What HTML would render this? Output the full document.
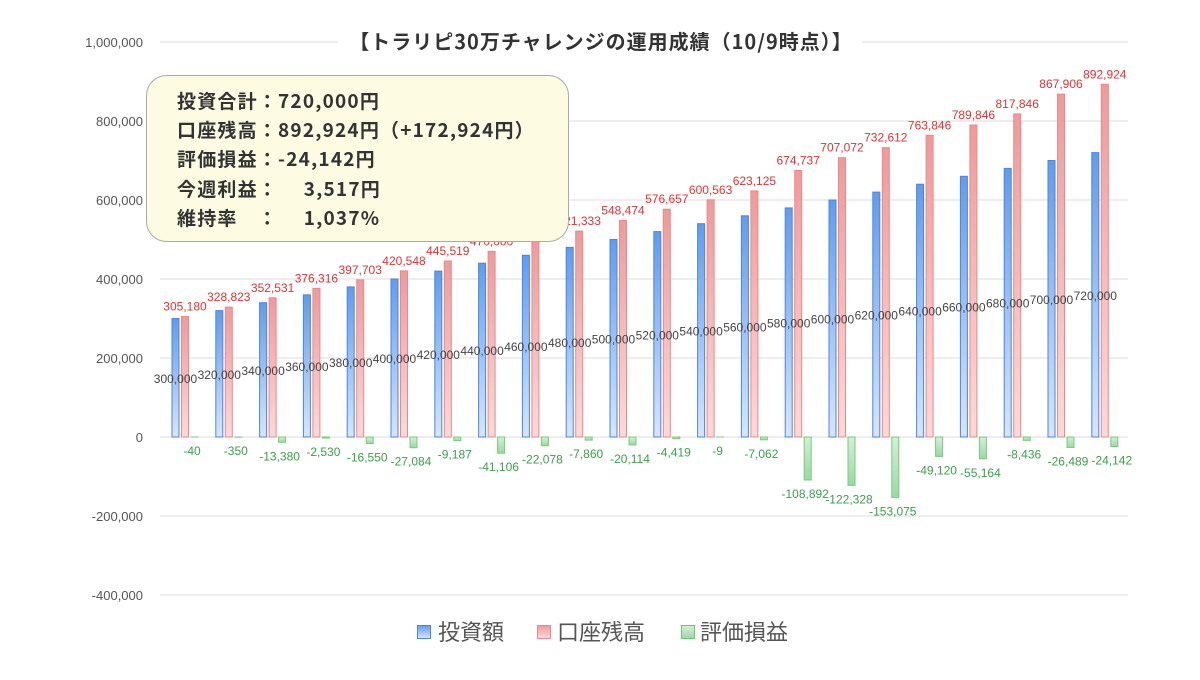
<!DOCTYPE html>
<html><head><meta charset="utf-8"><style>
body{margin:0;background:#fff;}
svg text{font-family:"Liberation Sans","Noto Sans CJK JP",sans-serif;}
svg text.cjk{font-family:"Noto Sans CJK JP","Liberation Sans",sans-serif;}
</style></head><body>
<svg id="chart" width="1200" height="675" xmlns="http://www.w3.org/2000/svg">
<defs>
<linearGradient id="gb" x1="0" y1="0" x2="0" y2="1"><stop offset="0" stop-color="#5f9cef"/><stop offset="1" stop-color="#d6e6fc"/></linearGradient>
<linearGradient id="gr" x1="0" y1="0" x2="0" y2="1"><stop offset="0" stop-color="#ee9a9a"/><stop offset="1" stop-color="#fbdada"/></linearGradient>
<linearGradient id="gg" x1="0" y1="0" x2="0" y2="1"><stop offset="0" stop-color="#d3f0d8"/><stop offset="1" stop-color="#9ad8a6"/></linearGradient>
</defs>
<rect width="1200" height="675" fill="#fff"/>
<g id="grid"></g>
<g id="bars"></g>
<g id="labels"></g>
<rect x="338" y="28" width="524" height="28" fill="#fff"/>
<text class="cjk" x="601" y="49" text-anchor="middle" font-size="20" letter-spacing="1" font-weight="bold" fill="#333">【トラリピ30万チャレンジの運用成績（10/9時点）】</text>
<g>
<rect x="146.5" y="75.5" width="422" height="166" rx="20" fill="#fdfbe2" stroke="#aaa"/>
<g font-size="19" letter-spacing="1.2" font-weight="bold" fill="#333">
<text class="cjk" x="177" y="108">投資合計：720,000円</text>
<text class="cjk" x="177" y="137">口座残高：892,924円（+172,924円）</text>
<text class="cjk" x="177" y="166">評価損益：-24,142円</text>
<text class="cjk" x="177" y="196">今週利益：　 3,517円</text>
<text class="cjk" x="177" y="225">維持率　：　 1,037%</text>
</g></g>
<g font-size="22" fill="#555">
<rect x="417.5" y="625.5" width="13" height="13" fill="url(#gb)" stroke="#4a86e0"/><text x="438" y="640">投資額</text>
<rect x="537.5" y="625.5" width="13" height="13" fill="url(#gr)" stroke="#e88"/><text x="557" y="640">口座残高</text>
<rect x="681.5" y="625.5" width="13" height="13" fill="url(#gg)" stroke="#6c6"/><text x="700" y="640">評価損益</text>
</g>
</svg>
<script>
const invest=[300000,320000,340000,360000,380000,400000,420000,440000,460000,480000,500000,520000,540000,560000,580000,600000,620000,640000,660000,680000,700000,720000];
const balance=[305180,328823,352531,376316,397703,420548,445519,470000,498000,521333,548474,576657,600563,623125,674737,707072,732612,763846,789846,817846,867906,892924];
const pnl=[-40,-350,-13380,-2530,-16550,-27084,-9187,-41106,-22078,-7860,-20114,-4419,-9,-7062,-108892,-122328,-153075,-49120,-55164,-8436,-26489,-24142];
const yTicks=[1000000,800000,600000,400000,200000,0,-200000,-400000];
const NS='http://www.w3.org/2000/svg';
const y=v=>437-v*0.000395;
const step=43.8, x0=163;
const cx=i=>x0+i*step;
const fmt=v=>v.toLocaleString('en-US');
function mk(tag,attrs,parent,txt){const e=document.createElementNS(NS,tag);for(const k in attrs)e.setAttribute(k,attrs[k]);if(txt!==undefined)e.textContent=txt;parent.appendChild(e);return e;}
const grid=document.getElementById('grid'),bars=document.getElementById('bars'),labels=document.getElementById('labels');
yTicks.forEach(t=>{
 const l=mk('line',{x1:160,x2:1128,y1:y(t),y2:y(t),stroke:'#ddd','stroke-width':1},grid);
 
 
 const tx=mk('text',{x:143,y:y(t)+5,'text-anchor':'end','font-size':13,fill:'#555'},grid,fmt(t));
 
 
});
invest.forEach((v,i)=>{
 const bx=cx(i)+9;
 const b=mk('rect',{x:bx,y:y(v),width:7,height:y(0)-y(v),fill:'url(#gb)',stroke:'#4a86e0','stroke-width':1},bars);
 
 
 const t=mk('text',{x:bx+3.5,y:y(v/2)+5,'text-anchor':'middle','font-size':12,fill:'#444'},labels,fmt(v));
 
 
});
balance.forEach((v,i)=>{
 const bx=cx(i)+18.5;
 const b=mk('rect',{x:bx,y:y(v),width:7,height:y(0)-y(v),fill:'url(#gr)',stroke:'#e88','stroke-width':1},bars);
 
 
 const t=mk('text',{x:bx+3.5,y:y(v)-6,'text-anchor':'middle','font-size':12,fill:'#e03232'},labels,fmt(v));
 
 
});
pnl.forEach((v,i)=>{
 const bx=cx(i)+28;
 const b=mk('rect',{x:bx,y:y(0),width:7,height:y(v)-y(0),fill:'url(#gg)',stroke:'#7c7','stroke-width':1},bars);
 
 
 const t=mk('text',{x:bx+1,y:y(v)+18,'text-anchor':'middle','font-size':12,fill:'#3aa04a'},labels,fmt(v));
 
 
});
</script>
</body></html>
